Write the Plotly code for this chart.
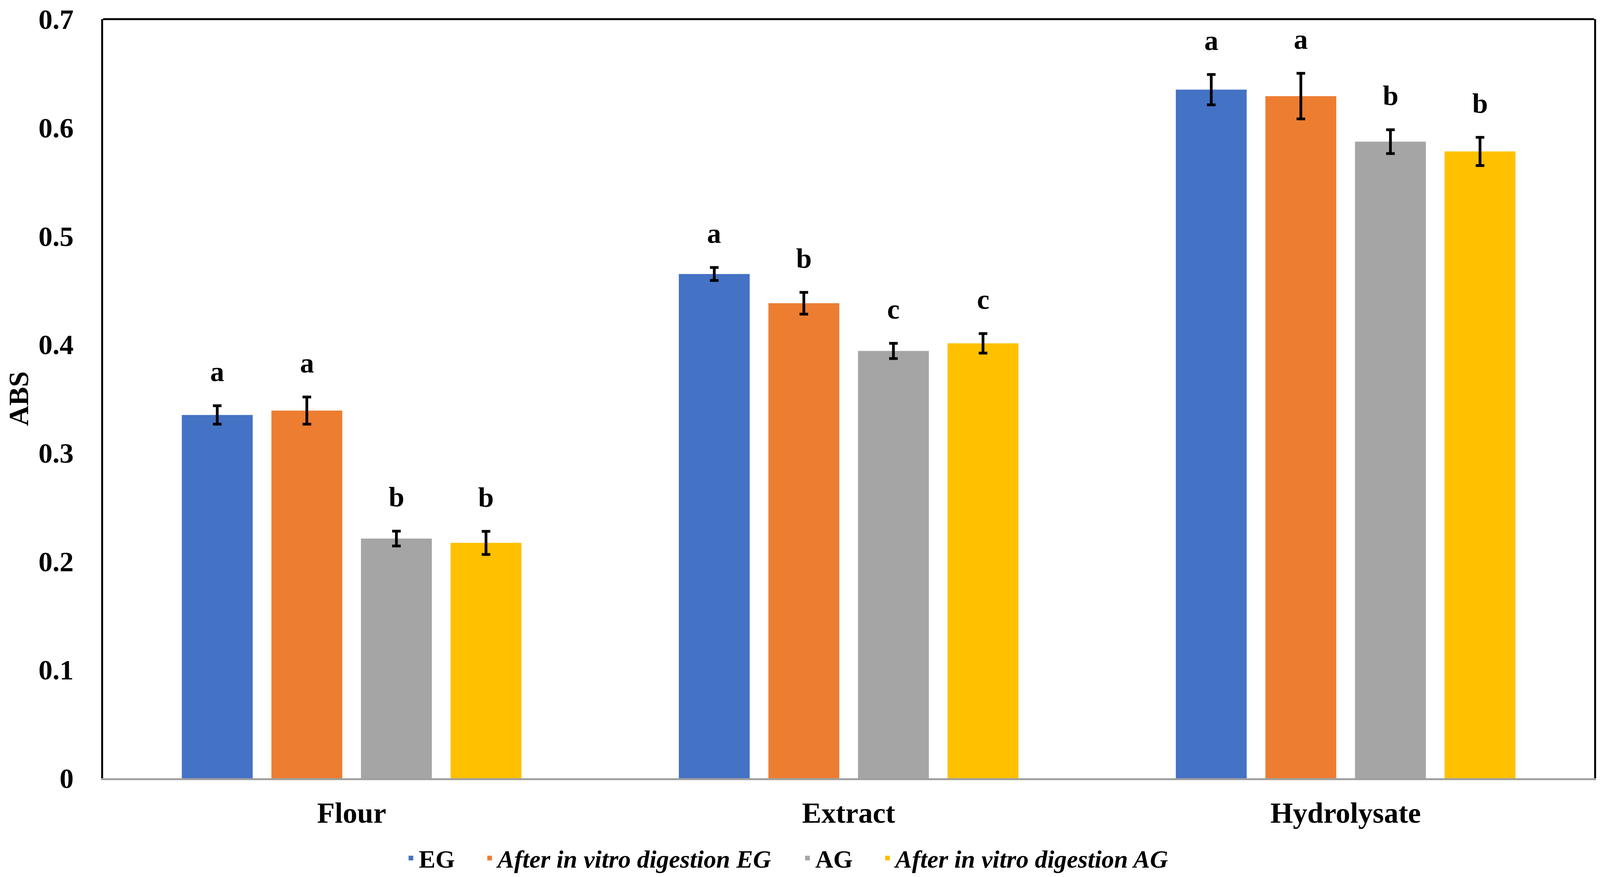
import plotly.graph_objects as go

categories = ['Flour', 'Extract', 'Hydrolysate']
series_names = ['EG', '<i>After in vitro digestion EG</i>', 'AG', '<i>After in vitro digestion AG</i>']
colors = ['#4472C4', '#ED7D31', '#A5A5A5', '#FFC000']

eg = [0.335, 0.465, 0.635]
after_eg = [0.339, 0.438, 0.629]
ag = [0.221, 0.394, 0.587]
after_ag = [0.217, 0.401, 0.578]

eg_err = [0.0085, 0.006, 0.014]
after_eg_err = [0.0125, 0.010, 0.021]
ag_err = [0.0068, 0.007, 0.011]
after_ag_err = [0.0107, 0.009, 0.013]

eg_letters = ['a', 'a', 'a']
after_eg_letters = ['a', 'b', 'a']
ag_letters = ['b', 'c', 'b']
after_ag_letters = ['b', 'c', 'b']

y_ticks = [0, 0.1, 0.2, 0.3, 0.4, 0.5, 0.6, 0.7]
y_tick_labels = ['0', '0.1', '0.2', '0.3', '0.4', '0.5', '0.6', '0.7']

values = [eg, after_eg, ag, after_ag]
errors = [eg_err, after_eg_err, ag_err, after_ag_err]
letters = [eg_letters, after_eg_letters, ag_letters, after_ag_letters]

FONT = 'Liberation Serif'
BARGAP = 0.279
# the browser viewport ends up 4096 px wide; body keeps its 8px margin
W, H = 4096 - 16, 2246 - 16
GAP = '\u00a0' * 4

fig = go.Figure()
for j in range(4):
    fig.add_trace(go.Bar(
        x=categories, y=values[j], name=series_names[j] + GAP,
        marker=dict(color=colors[j], line=dict(width=0)),
        error_y=dict(type='data', array=errors[j], visible=True,
                     color='black', thickness=7, width=11),
    ))

# significance letters above the error bars
slot = (1 - BARGAP) / 4
for j in range(4):
    for i in range(len(categories)):
        fig.add_annotation(
            x=i + (j - 1.5) * slot, y=values[j][i] + errors[j][i],
            xref='x', yref='y', text=letters[j][i], showarrow=False,
            yanchor='bottom', yshift=45,
            font=dict(family=FONT, size=72, color='black', weight='bold'),
        )

# top border of the plot frame
fig.add_shape(type='line', xref='paper', yref='paper', x0=0, x1=1, y0=1, y1=1,
              line=dict(color='black', width=5))

fig.update_layout(
    width=W, height=H,
    margin=dict(l=226, r=2, t=29, b=245),
    paper_bgcolor='white', plot_bgcolor='white',
    barmode='group', bargap=BARGAP, bargroupgap=0.209,
    font=dict(family=FONT, color='black', weight='bold'),
    showlegend=True,
    legend=dict(orientation='h', xref='container', yref='container',
                x=0.5, xanchor='center', y=0.018, yanchor='middle',
                font=dict(family=FONT, size=64, color='black', weight='bold')),
)
fig.update_xaxes(
    showline=True, linecolor='#A0A0A0', linewidth=5,
    showgrid=False, ticks='', ticklabelstandoff=20,
    tickfont=dict(family=FONT, size=74, color='black', weight='bold'),
)
fig.update_yaxes(
    range=[0, 0.7], tickvals=y_ticks, ticktext=y_tick_labels,
    showline=True, linecolor='black', linewidth=5, ticklabeloverflow='allow',
    mirror=True, showgrid=False, zeroline=False, ticks='', ticklabelstandoff=56,
    tickfont=dict(family=FONT, size=72, color='black', weight='bold'),
    title=dict(text='ABS', standoff=38,
               font=dict(family=FONT, size=72, color='black', weight='bold')),
)

fig.write_html('out.html')
